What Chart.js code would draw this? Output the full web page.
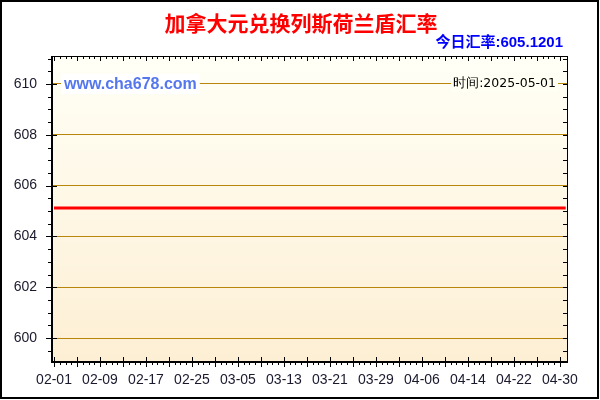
<!DOCTYPE html>
<html>
<head>
<meta charset="utf-8">
<script src="https://cdn.jsdelivr.net/npm/chart.js@4.4.1/dist/chart.umd.min.js"></script>
<style>
  body { margin: 0; background: #fff; }
  canvas { display: block; }
</style>
</head>
<body>
<canvas id="grafico" width="600" height="400"></canvas>
<script>
const titulo = '加拿大元兑换列斯荷兰盾汇率';
const taxaHoje = '605.1201';
const dataAtualizacao = '2025-05-01';
const site = 'www.cha678.com';

const inicio = '2025-02-01';
const datas = ['2025-02-01', '2025-03-01', '2025-04-01', '2025-05-01'];
const taxas = [605.1201, 605.1201, 605.1201, 605.1201];

const rotulosX = ['02-01', '02-09', '02-17', '02-25', '03-05', '03-13',
  '03-21', '03-29', '04-06', '04-14', '04-22', '04-30'];
const ticksY = [600, 602, 604, 606, 608, 610];

function diaIndice(s) {
  return Math.round((Date.parse(s) - Date.parse(inicio)) / 86400000);
}

const graficoCanvas = document.getElementById('grafico');

const fundo = {
  id: 'fundo',
  beforeDraw(chart) {
    const { ctx, chartArea: a } = chart;
    const g = ctx.createLinearGradient(0, a.top, 0, a.bottom);
    g.addColorStop(0, '#FFFFF6');
    g.addColorStop(1, '#FDEFD4');
    ctx.save();
    ctx.fillStyle = g;
    ctx.fillRect(a.left, a.top, a.right - a.left, a.bottom - a.top);
    ctx.restore();
  },
  beforeDatasetsDraw(chart) {
    const { ctx, chartArea: a } = chart;
    const y610 = chart.scales.y.getPixelForValue(610);
    ctx.save();
    // marca d'agua
    ctx.font = 'bold 16px "Liberation Sans", Arial, sans-serif';
    const w = ctx.measureText(site).width;
    ctx.fillStyle = '#FFFFFF';
    ctx.fillRect(a.left + 9, y610 - 10, w + 6, 20);
    ctx.fillStyle = '#5577EE';
    ctx.textBaseline = 'middle';
    ctx.fillText(site, a.left + 12, y610 + 1);
    // data
    ctx.font = '12.5px "DejaVu Sans", sans-serif';
    const txt = '时间:' + dataAtualizacao;
    const w2 = ctx.measureText(txt).width;
    ctx.fillStyle = '#FFFFF4';
    ctx.fillRect(a.right - 12 - w2 - 2, y610 - 8, w2 + 4, 16);
    ctx.fillStyle = '#000';
    ctx.textAlign = 'right';
    ctx.fillText(txt, a.right - 12, y610);
    ctx.restore();
  },
  afterDraw(chart) {
    const { ctx, chartArea: a, scales } = chart;
    ctx.save();
    ctx.strokeStyle = '#000';
    // moldura
    ctx.lineWidth = 1;
    ctx.beginPath();
    ctx.moveTo(a.left, a.top + 0.5); ctx.lineTo(a.right, a.top + 0.5);
    ctx.moveTo(a.right - 0.5, a.top); ctx.lineTo(a.right - 0.5, a.bottom);
    ctx.stroke();
    ctx.lineWidth = 2;
    ctx.beginPath();
    ctx.moveTo(a.left, a.top); ctx.lineTo(a.left, a.bottom + 1);
    ctx.lineTo(a.right, a.bottom + 1);
    ctx.stroke();

    // marcas do eixo x (um por dia)
    ctx.lineWidth = 1;
    ctx.beginPath();
    const fim = diaIndice(dataAtualizacao);
    for (let d = 0; d < fim; d++) {
      const px = Math.round(scales.x.getPixelForValue(d)) + 0.5;
      const maior = d % 4 === 0;
      ctx.moveTo(px, a.bottom + (maior ? -4 : 0));
      ctx.lineTo(px, a.bottom + (maior ? 6 : 4));
      ctx.moveTo(px, a.top);
      ctx.lineTo(px, a.top + (maior ? 5 : 3));
    }
    // marcas do eixo y (cada 0.5)
    for (let v = 599.5; v <= 611; v += 0.5) {
      const py = Math.round(scales.y.getPixelForValue(v)) + 0.5;
      const maior = ticksY.includes(v);
      ctx.moveTo(a.left - (maior ? 6 : 4), py);
      ctx.lineTo(a.left + (maior ? 5 : 1), py);
      ctx.moveTo(a.right, py);
      ctx.lineTo(a.right - 5, py);
    }
    ctx.stroke();

    // titulos
    ctx.textBaseline = 'middle';
    ctx.textAlign = 'center';
    ctx.fillStyle = '#FF0000';
    ctx.font = 'bold 21px "Noto Sans CJK SC", sans-serif';
    ctx.fillText(titulo, 301, 23);
    ctx.textAlign = 'right';
    ctx.fillStyle = '#0000FF';
    ctx.font = 'bold 15px "Liberation Sans", "Noto Sans CJK SC", sans-serif';
    ctx.fillText('今日汇率:' + taxaHoje, 563, 43);

    // borda externa
    ctx.lineWidth = 2;
    ctx.strokeRect(1, 1, 597, 397);
    ctx.restore();
  }
};

new Chart(graficoCanvas, {
  type: 'line',
  data: {
    datasets: [{
      data: datas.map((d, i) => ({ x: diaIndice(d), y: taxas[i] })),
      borderColor: '#FF0000',
      borderWidth: 3,
      pointRadius: 0,
      tension: 0,
    }],
  },
  options: {
    responsive: false,
    animation: false,
    devicePixelRatio: 1,
    layout: { padding: { top: 56, right: 32, left: 0, bottom: 0 } },
    plugins: { legend: { display: false }, tooltip: { enabled: false } },
    scales: {
      x: {
        type: 'linear',
        min: -0.35,
        max: 89.4,
        afterFit: (s) => { s.height = 39; },
        afterBuildTicks: (s) => {
          s.ticks = rotulosX.map((l) => ({ value: diaIndice('2025-' + l) }));
        },
        ticks: {
          autoSkip: false,
          maxRotation: 0,
          padding: 11,
          color: '#1a1a2e',
          font: { family: '"Liberation Sans", Arial, sans-serif', size: 14 },
          callback: (v) => {
            const i = rotulosX.findIndex((l) => diaIndice('2025-' + l) === v);
            return i >= 0 ? rotulosX[i] : '';
          },
        },
        grid: { display: false, drawTicks: false },
        border: { display: false },
      },
      y: {
        min: 599.1,
        max: 611.1,
        afterFit: (s) => { s.width = 52; },
        afterBuildTicks: (s) => {
          s.ticks = ticksY.map((v) => ({ value: v }));
        },
        ticks: {
          padding: 15,
          color: '#1a1a2e',
          font: { family: '"Liberation Sans", Arial, sans-serif', size: 14 },
        },
        grid: { color: '#B8860B', lineWidth: 1, drawTicks: false },
        border: { display: false },
      },
    },
  },
  plugins: [fundo],
});
</script>
</body>
</html>
